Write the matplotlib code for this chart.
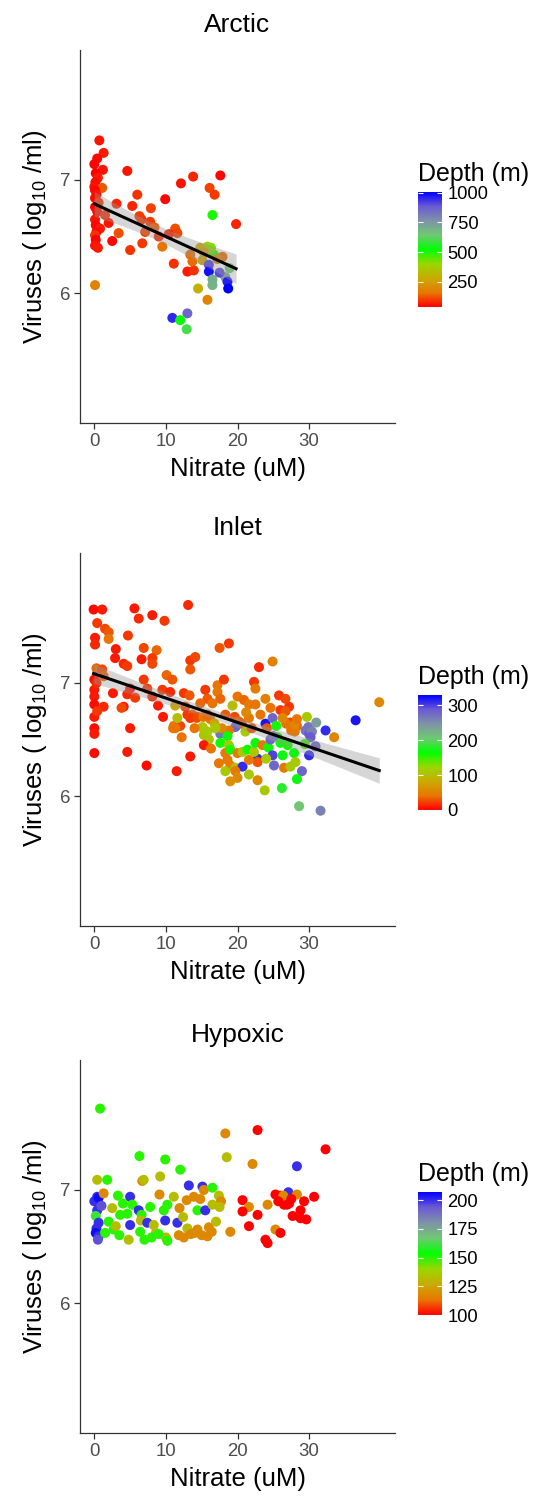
import numpy as np
import matplotlib
matplotlib.use("Agg")
import matplotlib.pyplot as plt
from matplotlib.colors import LinearSegmentedColormap, Normalize
from matplotlib.cm import ScalarMappable

plt.rcParams['font.family'] = ['Liberation Sans', 'DejaVu Sans']
plt.rcParams['mathtext.fontset'] = 'custom'
plt.rcParams['mathtext.rm'] = 'Liberation Sans'
plt.rcParams['mathtext.default'] = 'regular'

# (nitrate uM, log10 viruses/ml, depth m)
arctic_pts = [
    (0.7, 7.35, 60), (1.3, 7.24, 70), (0.4, 7.19, 50), (0.0, 7.14, 45), (1.2, 7.09, 60),
    (0.2, 7.06, 40), (0.5, 7.02, 70), (0.15, 6.98, 55), (0.0, 6.94, 60), (1.1, 6.93, 130),
    (0.1, 6.91, 45), (0.3, 6.87, 65), (0.1, 6.84, 50), (0.6, 6.80, 90), (0.1, 6.76, 40),
    (0.4, 6.72, 60), (1.5, 6.69, 90), (0.1, 6.65, 60), (0.2, 6.60, 45), (0.8, 6.57, 70),
    (0.3, 6.54, 55), (0.1, 6.51, 90), (0.2, 6.47, 40), (0.1, 6.42, 60), (0.5, 6.40, 70),
    (0.1, 6.07, 190), (2.5, 6.46, 50), (3.4, 6.53, 120), (5.0, 6.38, 90), (4.6, 7.08, 60),
    (3.1, 6.79, 80), (5.3, 6.77, 80), (6.0, 6.87, 90), (7.9, 6.75, 110), (6.6, 6.65, 90),
    (6.3, 6.68, 100), (7.8, 6.63, 100), (7.1, 6.54, 110), (6.7, 6.44, 100), (9.0, 6.50, 80),
    (9.5, 6.41, 160), (9.9, 6.83, 50), (12.1, 6.97, 60), (13.8, 7.03, 80), (17.6, 7.04, 50),
    (16.1, 6.93, 110), (16.8, 6.87, 100), (16.5, 6.69, 500), (19.8, 6.61, 80), (11.3, 6.57, 120),
    (11.6, 6.53, 110), (11.1, 6.26, 90), (13.0, 6.19, 70), (13.9, 6.20, 90), (13.4, 6.34, 150),
    (13.7, 6.28, 150), (15.8, 6.41, 380), (15.1, 6.29, 260), (16.7, 6.34, 480), (17.9, 6.32, 150),
    (16.0, 6.25, 920), (16.0, 6.19, 980), (16.5, 6.12, 700), (16.5, 6.07, 690), (18.3, 6.14, 720),
    (18.6, 6.10, 960), (18.7, 6.04, 1005), (14.5, 6.04, 300), (15.8, 5.94, 190), (10.9, 5.78, 950),
    (13.0, 5.82, 860), (12.0, 5.76, 520), (12.9, 5.68, 600), (8.4, 6.58, 130), (10.4, 6.52, 70),
    (14.8, 6.40, 280), (16.3, 6.40, 420), (2.0, 6.62, 60), (15.3, 6.36, 240), (17.2, 6.30, 190),
    (18.9, 6.22, 640), (17.5, 6.18, 900),
]

inlet_pts = [
    (-0.1, 7.65, 5), (1.1, 7.65, 10), (0.4, 7.53, 20), (1.5, 7.48, 25), (2.0, 7.45, 30),
    (2.0, 7.39, 40), (0.1, 7.40, 10), (0.1, 7.34, 15), (0.3, 7.13, 35), (1.1, 7.12, 25),
    (0.0, 7.03, 5), (1.3, 7.06, 30), (0.0, 6.94, 10), (0.0, 6.88, 10), (0.0, 6.81, 5),
    (1.3, 6.79, 15), (0.0, 6.70, 10), (0.0, 6.60, 5), (0.0, 6.55, 10), (0.0, 6.38, 5),
    (0.3, 7.00, 15), (0.4, 6.75, 20), (5.6, 7.66, 10), (6.2, 7.57, 15), (8.1, 7.60, 10),
    (9.8, 7.55, 20), (13.1, 7.69, 15), (4.7, 7.42, 20), (2.9, 7.22, 10), (4.1, 7.17, 15),
    (4.6, 7.15, 20), (6.6, 7.21, 10), (6.9, 7.31, 25), (8.7, 7.29, 35), (8.1, 7.22, 20),
    (8.1, 7.17, 25), (17.5, 7.31, 30), (18.8, 7.35, 20), (13.4, 7.20, 20), (13.4, 7.12, 30),
    (14.1, 7.23, 25), (23.0, 7.14, 15), (24.9, 7.19, 50), (2.6, 6.91, 10), (4.6, 6.90, 15),
    (5.7, 6.87, 20), (4.1, 6.79, 10), (3.8, 6.78, 25), (6.9, 7.03, 20), (8.9, 6.80, 10),
    (8.1, 6.88, 15), (9.5, 6.94, 20), (10.1, 7.07, 35), (10.9, 7.03, 30), (5.0, 6.60, 10),
    (4.6, 6.39, 10), (7.3, 6.27, 5), (11.5, 6.22, 10), (11.3, 6.80, 80), (11.1, 6.62, 40),
    (12.0, 6.62, 25), (11.6, 6.69, 100), (12.5, 6.91, 20), (13.3, 6.89, 30), (12.7, 6.79, 25),
    (13.0, 6.72, 20), (14.3, 6.69, 35), (13.7, 6.72, 30), (11.0, 6.60, 45), (13.4, 6.35, 10),
    (22.3, 7.01, 20), (22.5, 6.95, 45), (15.5, 6.94, 20), (17.2, 6.98, 40), (18.1, 7.03, 20),
    (17.2, 6.92, 45), (17.6, 6.86, 35), (15.8, 6.86, 30), (16.5, 6.82, 40), (14.8, 6.82, 35),
    (20.0, 6.88, 40), (20.9, 6.85, 35), (21.6, 6.81, 45), (22.5, 6.81, 40), (23.9, 6.86, 50),
    (24.6, 6.78, 40), (25.8, 6.89, 20), (26.7, 6.86, 25), (27.2, 6.79, 20), (19.3, 6.80, 100),
    (13.4, 6.69, 20), (14.4, 6.70, 25), (15.2, 6.70, 40), (16.2, 6.68, 45), (15.8, 6.72, 35),
    (18.3, 6.72, 30), (19.6, 6.70, 25), (20.2, 6.66, 35), (19.8, 6.62, 20), (20.6, 6.64, 30),
    (21.6, 6.69, 45), (15.3, 6.54, 105), (15.1, 6.61, 110), (17.6, 6.55, 270), (19.7, 6.61, 280),
    (21.1, 6.57, 110), (18.8, 6.58, 40), (17.8, 6.60, 55), (16.8, 6.64, 80), (23.9, 6.64, 320),
    (24.9, 6.69, 280), (24.1, 6.60, 30), (26.0, 6.76, 20), (26.7, 6.75, 30), (27.3, 6.65, 25),
    (26.8, 6.64, 40), (28.3, 6.62, 35), (28.0, 6.57, 45), (26.3, 6.69, 55), (29.7, 6.70, 110),
    (29.5, 6.58, 270), (30.0, 6.55, 290), (25.6, 6.52, 170), (15.8, 6.57, 115), (16.9, 6.60, 110),
    (16.0, 6.50, 105), (17.6, 6.47, 160), (18.6, 6.53, 170), (18.8, 6.45, 110), (18.3, 6.38, 45),
    (19.0, 6.41, 160), (20.0, 6.38, 45), (20.7, 6.39, 110), (21.4, 6.41, 160), (17.4, 6.29, 45),
    (18.6, 6.32, 45), (19.0, 6.27, 45), (19.7, 6.25, 100), (20.7, 6.26, 310), (18.3, 6.22, 110),
    (19.7, 6.22, 45), (20.0, 6.16, 55), (19.0, 6.13, 60), (21.6, 6.19, 110), (22.8, 6.14, 55),
    (23.8, 6.05, 110), (22.8, 6.33, 310), (22.8, 6.30, 30), (21.6, 6.32, 45), (22.3, 6.39, 110),
    (22.5, 6.47, 170), (23.5, 6.45, 45), (24.3, 6.43, 160), (24.6, 6.50, 280), (25.0, 6.53, 270),
    (24.9, 6.36, 300), (25.1, 6.27, 280), (26.0, 6.47, 170), (26.3, 6.36, 170), (26.5, 6.25, 45),
    (27.4, 6.26, 110), (27.9, 6.38, 170), (28.1, 6.30, 110), (29.0, 6.22, 280), (28.3, 6.15, 170),
    (26.2, 6.07, 180), (28.6, 5.91, 210), (31.6, 5.87, 260), (29.9, 6.61, 270), (30.4, 6.57, 260),
    (30.2, 6.52, 290), (30.0, 6.36, 310), (30.9, 6.44, 280), (32.3, 6.58, 310), (33.5, 6.52, 55),
    (36.5, 6.67, 320), (39.8, 6.83, 55), (27.5, 6.58, 40), (28.0, 6.63, 55), (28.3, 6.68, 40),
    (31.0, 6.65, 240), (24.0, 6.33, 110), (15.3, 6.45, 10), (16.3, 6.42, 40), (15.2, 6.60, 110),
    (11.3, 6.60, 40), (21.2, 6.74, 55), (22.0, 6.60, 25), (23.2, 6.72, 40), (25.4, 6.62, 160),
    (27.0, 6.45, 160), (29.4, 6.46, 150), (12.2, 6.52, 40), (14.0, 6.60, 40), (9.6, 6.70, 10),
    (10.6, 6.92, 15), (7.4, 6.95, 20), (3.0, 7.30, 10), (5.0, 6.95, 10),
]

hypoxic_pts = [
    (0.8, 7.72, 150), (18.3, 7.50, 118), (22.8, 7.53, 100), (32.3, 7.36, 100), (6.3, 7.30, 150),
    (9.9, 7.27, 150), (18.5, 7.29, 132), (12.0, 7.18, 150), (22.1, 7.23, 118), (28.3, 7.21, 200),
    (0.4, 7.09, 132), (1.8, 7.09, 150), (6.7, 7.08, 118), (6.9, 7.09, 132), (9.2, 7.12, 132),
    (13.2, 7.04, 200), (15.1, 7.03, 200), (15.3, 7.00, 118), (16.5, 7.02, 150), (17.4, 6.95, 132),
    (17.7, 6.90, 118), (17.5, 6.85, 132), (0.4, 6.94, 200), (0.0, 6.90, 200), (0.6, 6.93, 205),
    (0.4, 6.82, 200), (0.2, 6.77, 160), (0.6, 6.71, 200), (0.3, 6.66, 200), (0.2, 6.62, 205),
    (0.6, 6.59, 200), (0.5, 6.56, 195), (1.0, 6.86, 195), (1.3, 6.97, 118), (2.5, 6.84, 132),
    (2.7, 6.65, 150), (3.6, 6.78, 150), (4.6, 6.79, 150), (5.0, 6.94, 200), (5.3, 6.87, 150),
    (6.2, 6.82, 200), (6.6, 6.78, 150), (5.0, 6.69, 200), (6.5, 6.73, 132), (7.4, 6.71, 200),
    (8.3, 6.69, 132), (6.4, 6.63, 150), (9.7, 6.82, 150), (10.2, 6.87, 150), (9.9, 6.73, 200),
    (11.6, 6.71, 200), (9.1, 6.96, 118), (11.1, 6.94, 132), (11.9, 6.84, 118), (12.9, 6.91, 118),
    (13.9, 6.94, 118), (14.4, 6.82, 150), (15.5, 6.82, 200), (16.5, 6.87, 132), (14.0, 6.62, 118),
    (15.0, 6.60, 118), (15.8, 6.59, 118), (16.4, 6.63, 118), (14.4, 6.65, 118), (11.8, 6.60, 118),
    (10.0, 6.58, 132), (8.6, 6.62, 132), (7.0, 6.56, 150), (4.8, 6.56, 132), (3.5, 6.60, 150),
    (10.2, 6.55, 150), (13.0, 6.66, 132), (20.7, 6.91, 100), (21.6, 6.85, 118), (20.7, 6.81, 100),
    (22.8, 6.78, 100), (21.6, 6.68, 100), (24.2, 6.87, 118), (25.3, 6.96, 100), (26.0, 6.95, 100),
    (26.5, 6.87, 100), (26.9, 6.87, 100), (27.2, 6.88, 100), (27.1, 6.98, 200), (28.3, 6.96, 118),
    (29.3, 6.90, 100), (30.7, 6.94, 100), (28.8, 6.82, 100), (27.7, 6.77, 100), (28.8, 6.75, 100),
    (25.3, 6.65, 118), (26.0, 6.62, 100), (23.9, 6.56, 100), (24.2, 6.53, 100), (26.4, 6.95, 118),
    (27.5, 6.92, 100), (29.6, 6.74, 100), (25.7, 6.90, 100), (1.5, 6.62, 150), (2.0, 6.72, 150),
    (3.0, 6.68, 132), (8.0, 6.58, 150), (9.0, 6.61, 150), (12.5, 6.58, 118), (13.5, 6.61, 118),
    (16.0, 6.67, 118), (17.0, 6.72, 132), (19.0, 6.63, 118), (3.3, 6.95, 150), (4.0, 6.88, 150),
    (7.8, 6.85, 150), (12.4, 6.76, 132), (14.8, 6.92, 118),
]

titles = ["Arctic", "Inlet", "Hypoxic"]
depth_lims = [(40, 1005), (0, 330), (100, 207)]
depth_ticks = [[250, 500, 750, 1000], [0, 100, 200, 300], [100, 125, 150, 175, 200]]
has_fit = [True, True, False]

# red -> green -> blue, blended in Lab like ggplot does
cmap = LinearSegmentedColormap.from_list(
    "depth", ['#FF0000', '#E87700', '#C9AB00', '#98D700', '#00FF00',
              '#6FC972', '#7E93A6', '#6C5BD3', '#0000FF'])

W, H = 540, 1500
fig = plt.figure(figsize=(W / 100, H / 100), dpi=100)

ax_tops = [50, 553, 1060]
bar_spans = [(192, 307), (695, 810), (1192, 1315)]

for i, pts in enumerate([arctic_pts, inlet_pts, hypoxic_pts]):
    pts = np.array(pts, dtype=float)
    x, y, d = pts[:, 0], pts[:, 1], pts[:, 2]
    top = ax_tops[i]
    ax = fig.add_axes([80 / W, 1 - (top + 373) / H, 315 / W, 373 / H])
    norm = Normalize(*depth_lims[i])
    ax.scatter(x, y, c=d, cmap=cmap, norm=norm, s=52, linewidths=0, zorder=2)

    if has_fit[i]:
        b, a = np.polyfit(x, y, 1)
        xs = np.linspace(x.min(), x.max(), 80)
        n = len(x)
        resid = y - (a + b * x)
        s = np.sqrt(np.sum(resid ** 2) / (n - 2))
        se = s * np.sqrt(1 / n + (xs - x.mean()) ** 2 / np.sum((x - x.mean()) ** 2))
        fit = a + b * xs
        ax.fill_between(xs, fit - 1.97 * se, fit + 1.97 * se, color='#999999', alpha=0.4,
                        linewidth=0, zorder=3)
        ax.plot(xs, fit, color='black', lw=2.2, zorder=4)

    ax.set_xlim(-2, 42)
    ax.set_ylim(4.85, 8.15)
    ax.set_xticks([0, 10, 20, 30])
    ax.set_yticks([6, 7])
    for side in ['top', 'right']:
        ax.spines[side].set_visible(False)
    for side in ['left', 'bottom']:
        ax.spines[side].set_color('#333333')
        ax.spines[side].set_linewidth(0.9)
    ax.tick_params(length=4, width=0.9, color='#333333', labelcolor='#4D4D4D',
                   labelsize=13.4, pad=3)
    ax.set_title(titles[i], fontsize=19, pad=13)
    ax.set_xlabel('Nitrate (uM)', fontsize=18.5, labelpad=5)
    ax.set_ylabel('Viruses ( log$_{10}$ /ml)', fontsize=18.5, labelpad=8)

    b0, b1 = bar_spans[i]
    cax = fig.add_axes([418 / W, 1 - b1 / H, 24 / W, (b1 - b0) / H])
    cb = fig.colorbar(ScalarMappable(norm=norm, cmap=cmap), cax=cax, ticks=depth_ticks[i])
    cb.outline.set_visible(False)
    cax.tick_params(direction='in', length=3.5, width=0.8, color='white', left=True,
                    right=True, labelsize=13.2, labelcolor='black', pad=4)
    # nudged up a little so the descender clears the top tick label
    fig.text(418 / W, 1 - (b0 - 11) / H, 'Depth (m)', fontsize=18, ha='left', va='baseline')

fig.savefig('out.png', dpi=100, facecolor='white')
